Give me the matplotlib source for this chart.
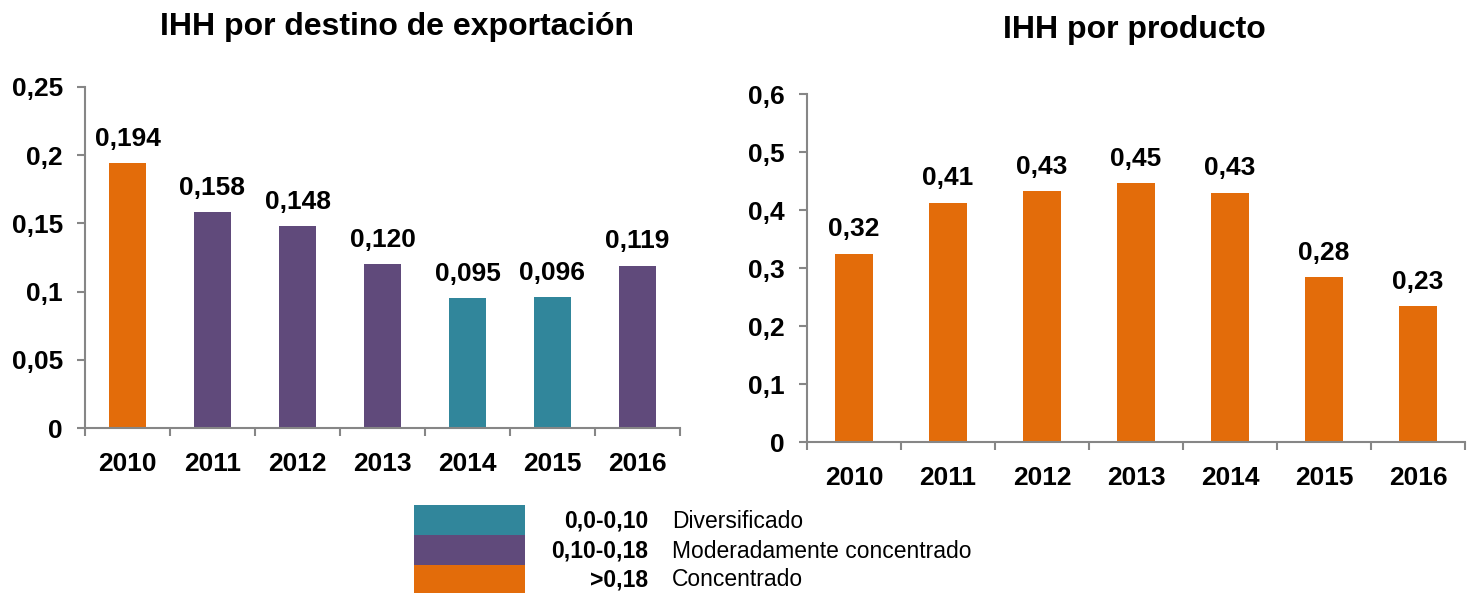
import numpy as np
import matplotlib.pyplot as plt
import matplotlib.patches as mpatches

plt.rcParams['font.family'] = ['Liberation Sans', 'DejaVu Sans']

# ── Data ──────────────────────────────────────────────────────────────────────
YEARS = ['2010', '2011', '2012', '2013', '2014', '2015', '2016']
IHH_DESTINO = [0.194, 0.158, 0.148, 0.120, 0.095, 0.096, 0.119]
IHH_DESTINO_LBL = ['0,194', '0,158', '0,148', '0,120', '0,095', '0,096', '0,119']
IHH_PRODUCTO = [0.325, 0.412, 0.432, 0.446, 0.430, 0.284, 0.234]
IHH_PRODUCTO_LBL = ['0,32', '0,41', '0,43', '0,45', '0,43', '0,28', '0,23']

RANGES = ['0,0-0,10', '0,10-0,18', '>0,18']
RANGE_NAMES = ['Diversificado', 'Moderadamente concentrado', 'Concentrado']

# ── Colours ───────────────────────────────────────────────────────────────────
COL_TEAL   = '#31869B'
COL_PURPLE = '#604A7B'
COL_ORANGE = '#E36C0A'
COL_AXIS   = '#868686'
RANGE_COLS = [COL_TEAL, COL_PURPLE, COL_ORANGE]

FS_TICK  = 19
FS_LABEL = 19
FS_TITLE = 23
FS_LEG   = 16.5


def _class_colour(v):
    if v <= 0.10:
        return COL_TEAL
    if v <= 0.18:
        return COL_PURPLE
    return COL_ORANGE


def _style_axes(ax, ymax, step, fmt):
    x = np.arange(len(YEARS))
    ax.set_xlim(-0.5, len(YEARS) - 0.5)
    ax.set_ylim(0, ymax)
    yt = np.arange(0, ymax + step / 2, step)
    ax.set_yticks(yt)
    ax.set_yticklabels([fmt(v) for v in yt], fontsize=FS_TICK, fontweight='bold')
    # category labels, tick marks on category boundaries
    ax.set_xticks(x)
    ax.set_xticklabels(YEARS, fontsize=FS_TICK, fontweight='bold')
    ax.tick_params(axis='x', length=0, pad=17)
    ax.set_xticks(np.arange(-0.5, len(YEARS)), minor=True)
    ax.tick_params(axis='x', which='minor', length=6, color=COL_AXIS,
                   direction='out', width=1.5)
    ax.tick_params(axis='y', length=6, color=COL_AXIS, direction='out',
                   width=1.5, pad=10)
    for s in ('top', 'right'):
        ax.spines[s].set_visible(False)
    for s in ('left', 'bottom'):
        ax.spines[s].set_color(COL_AXIS)
        ax.spines[s].set_linewidth(1.5)


def _fmt_left(v):
    s = f'{v:.2f}'.rstrip('0').rstrip('.')
    return s.replace('.', ',') if s else '0'


def _fmt_right(v):
    s = f'{v:.1f}'.rstrip('0').rstrip('.')
    return s.replace('.', ',') if s else '0'


fig = plt.figure(figsize=(14.76, 5.93), dpi=100)

# ── Left: IHH por destino ─────────────────────────────────────────────────────
ax1 = fig.add_axes([85 / 1476, 1 - 428 / 593, 595 / 1476, 341 / 593])
x = np.arange(len(YEARS))
ax1.bar(x, IHH_DESTINO, width=0.43,
        color=[_class_colour(v) for v in IHH_DESTINO])
for xi, v, lbl in zip(x, IHH_DESTINO, IHH_DESTINO_LBL):
    ax1.text(xi, v + 0.009, lbl, ha='center', va='bottom',
             fontsize=FS_LABEL, fontweight='bold')
_style_axes(ax1, 0.25, 0.05, _fmt_left)
fig.text(397 / 1476, 1 - 27 / 593, 'IHH por destino de exportación',
         ha='center', va='center', fontsize=FS_TITLE, fontweight='bold')

# ── Right: IHH por producto ───────────────────────────────────────────────────
ax2 = fig.add_axes([807 / 1476, 1 - 442 / 593, 658 / 1476, 348 / 593])
ax2.bar(x, IHH_PRODUCTO, width=0.40, color=COL_ORANGE)
for xi, v, lbl in zip(x, IHH_PRODUCTO, IHH_PRODUCTO_LBL):
    ax2.text(xi, v + 0.022, lbl, ha='center', va='bottom',
             fontsize=FS_LABEL, fontweight='bold')
_style_axes(ax2, 0.6, 0.1, _fmt_right)
fig.text(1134 / 1476, 1 - 30 / 593, 'IHH por producto',
         ha='center', va='center', fontsize=FS_TITLE, fontweight='bold')

# ── Classification legend ─────────────────────────────────────────────────────
row_top = [505, 535, 565]
row_h = [30, 30, 28]
for top, h, col, rng, name in zip(row_top, row_h, RANGE_COLS, RANGES, RANGE_NAMES):
    fig.patches.append(mpatches.Rectangle(
        (414 / 1476, 1 - (top + h) / 593), 111 / 1476, h / 593,
        transform=fig.transFigure, facecolor=col, edgecolor='none'))
    yc = 1 - (top + h / 2 + 1) / 593
    fig.text(648 / 1476, yc, rng, ha='right', va='center',
             fontsize=FS_LEG, fontweight='bold')
    fig.text(672 / 1476, yc, name, ha='left', va='center', fontsize=FS_LEG)

fig.savefig('out.png', dpi=100)
